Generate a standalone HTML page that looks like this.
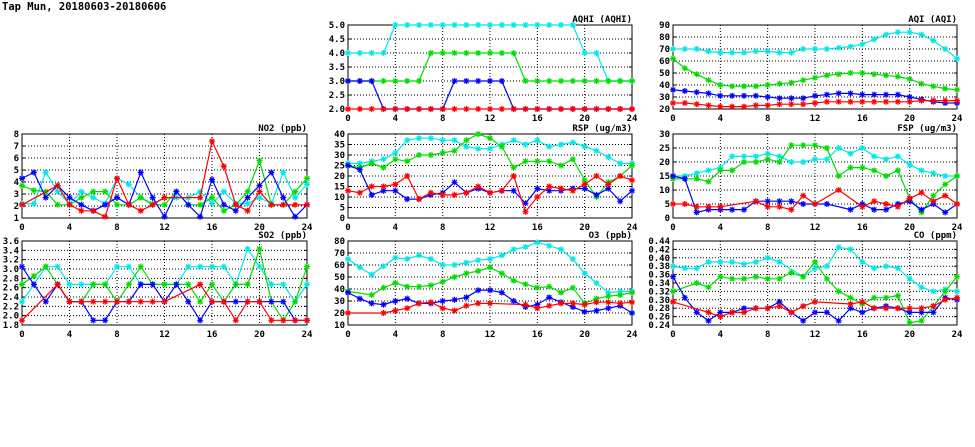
<!DOCTYPE html>
<html><head><meta charset="utf-8"><style>
html,body{margin:0;padding:0;background:#fff;width:975px;height:447px;overflow:hidden}
svg text{font-family:"DejaVu Sans Mono","Liberation Mono",monospace;font-size:9px;font-weight:bold;fill:#000}
</style></head><body>
<svg id="s" width="975" height="447" xmlns="http://www.w3.org/2000/svg">
<text x="2" y="10" style="font-size:10.5px">Tap Mun, 20180603-20180606</text>
</svg>
<script>
var N=null;
var P=[
{t:"AQHI (AQHI)",x:348,y:25,w:284,h:84,mn:2,mx:5,st:0.5,fmt:1,d:[
[4,4,4,4,5,5,5,5,5,5,5,5,5,5,5,5,5,5,5,5,4,4,3,3,3],
[3,3,3,3,3,3,3,4,4,4,4,4,4,4,4,3,3,3,3,3,3,3,3,3,3],
[3,3,3,2,2,2,2,2,2,3,3,3,3,3,2,2,2,2,2,2,2,2,2,2,2],
[2,2,2,2,2,2,2,2,2,2,2,2,2,2,2,2,2,2,2,2,2,2,2,2,2]]},
{t:"AQI (AQI)",x:673,y:25,w:284,h:84,mn:20,mx:90,st:10,fmt:0,d:[
[70,70,70,68,67,67,67,68,68,67,67,70,70,70,71,72,74,78,82,84,84,82,77,70,62],
[62,54,49,44,40,39,39,39,40,41,42,44,46,48,49,50,50,49,48,47,45,41,39,37,36],
[36,35,34,33,31,31,31,31,30,29,29,29,31,32,33,33,32,32,32,32,30,28,26,25,25],
[25,25,24,23,22,22,22,23,23,24,24,24,25,26,26,26,26,26,26,26,26,27,27,27,27]]},
{t:"NO2 (ppb)",x:22,y:134,w:285,h:84,mn:1,mx:8,st:1,fmt:0,d:[
[2.2,2.2,4.8,3.2,2.2,3.2,2.7,2.2,4.3,3.8,2.7,2.2,2.7,2.7,2.7,3.2,2.2,3.2,2.2,2.2,2.7,2.2,4.8,2.7,3.8],
[3.7,3.3,3.2,2.1,2.1,2.7,3.2,3.2,2.1,2.1,2.7,2.1,2.1,3.2,2.1,2.1,2.7,1.6,2.1,3.2,5.8,2.1,2.1,3.2,4.3],
[4.3,4.8,2.7,3.7,2.7,2.1,1.6,2.1,2.7,2.1,4.8,2.7,1.1,3.2,2.1,1.1,4.2,2.1,1.6,2.7,3.7,4.8,2.7,1.1,2.1],
[2.1,N,N,3.7,2.1,1.6,1.6,1.1,4.3,2.1,1.6,2.1,2.7,N,N,2.7,7.4,5.3,2.1,1.6,3.2,2.1,2.1,2.1,2.1]]},
{t:"RSP (ug/m3)",x:348,y:134,w:284,h:84,mn:0,mx:40,st:5,fmt:0,d:[
[26,26,27,28,31,37,38,38,37,37,34,33,33,35,37,35,37,34,35,36,34,32,29,26,26],
[25,24,26,24,28,27,30,30,31,32,37,40,38,34,24,27,27,27,25,28,18,10,17,20,25],
[25,23,11,13,13,9,9,11,12,17,12,14,12,13,13,7,14,13,13,14,14,11,14,8,13],
[13,12,15,15,16,20,9,12,11,11,12,15,12,13,20,3,10,15,14,13,16,20,16,20,18]]},
{t:"FSP (ug/m3)",x:673,y:134,w:284,h:84,mn:0,mx:30,st:5,fmt:0,d:[
[15,15,16,17,18,22,22,22,23,22,20,20,21,21,25,23,25,22,21,22,19,17,16,15,15],
[14,14,14,13,17,17,20,20,21,20,26,26,26,25,15,18,18,17,15,17,7,2,8,12,15],
[15,14,2,3,3,3,3,6,6,6,6,5,5,5,N,3,5,3,3,5,6,3,5,2,5],
[5,5,4,4,4,N,N,6,4,4,3,8,5,N,10,N,4,6,5,4,7,9,6,8,5]]},
{t:"SO2 (ppb)",x:22,y:241,w:285,h:84,mn:1.8,mx:3.6,st:0.2,fmt:1,d:[
[2.3,2.67,3.05,3.05,2.67,2.67,2.67,2.67,3.05,3.05,2.67,2.67,2.67,2.67,3.05,3.05,3.05,3.05,2.67,3.43,3.05,2.67,2.67,2.3,2.67],
[2.67,2.85,3.05,2.67,2.3,2.3,2.67,2.67,2.3,2.67,3.05,2.67,2.67,2.67,2.67,2.3,2.67,2.3,2.67,2.67,3.43,2.3,1.9,2.3,3.05],
[3.05,2.67,2.3,2.67,2.3,2.3,1.9,1.9,2.3,2.3,2.67,2.67,2.3,2.67,2.3,1.9,2.3,2.3,2.3,2.3,2.3,2.3,2.3,1.9,1.9],
[1.9,N,N,2.67,2.3,2.3,2.3,2.3,2.3,2.3,2.3,2.3,2.3,N,N,2.67,2.3,2.3,1.9,2.3,2.3,1.9,1.9,1.9,1.9]]},
{t:"O3 (ppb)",x:348,y:241,w:284,h:84,mn:10,mx:80,st:10,fmt:0,d:[
[65,58,52,59,66,65,68,65,60,60,62,64,65,68,73,75,79,76,73,65,53,45,37,38,38],
[38,N,35,41,45,42,42,43,46,50,53,55,58,53,47,44,41,42,37,41,28,32,34,35,37],
[37,32,28,27,30,32,28,28,30,31,33,39,39,37,30,25,27,33,29,25,21,22,24,26,20],
[20,N,N,20,22,24,28,29,24,22,26,28,28,N,N,27,24,26,28,28,27,29,29,28,29]]},
{t:"CO (ppm)",x:673,y:241,w:284,h:84,mn:0.24,mx:0.44,st:0.02,fmt:2,d:[
[.38,.375,.375,.39,.39,.39,.385,.39,.40,.39,N,.355,.375,.38,.425,.42,.39,.375,.38,.375,.35,.33,.32,.325,.32],
[.32,N,.34,.33,.355,.35,.35,.355,.35,.35,.365,.355,.39,.35,.32,.305,.29,.305,.305,.31,.245,.25,.285,.32,.355],
[.355,.305,.27,.25,.27,.27,.28,.28,.28,.295,.27,.25,.27,.27,.25,.28,.27,.28,.285,.28,.27,.27,.27,.305,.30],
[.295,N,N,.27,.26,.27,.27,.28,.28,.285,.27,.285,.295,N,N,.29,.295,.28,.28,.28,.28,.28,.285,.30,.305]]}
];
var C=["#00e8e8","#00dd00","#0000ff","#ff0000"];
var h='';
P.forEach(function(p){
 var X=function(i){return p.x+i*p.w/24},Y=function(v){return p.y+p.h-(v-p.mn)/(p.mx-p.mn)*p.h};
 var n=Math.round((p.mx-p.mn)/p.st);
 for(var k=0;k<=n;k++){var v=p.mn+k*p.st,y=Y(v);
  if(k>0&&k<n)h+='<line x1="'+p.x+'" x2="'+(p.x+p.w)+'" y1="'+y+'" y2="'+y+'" stroke="#000" stroke-width="1" stroke-dasharray="1,2"/>';
  h+='<line x1="'+p.x+'" x2="'+(p.x+3)+'" y1="'+y+'" y2="'+y+'" stroke="#000"/><line x1="'+(p.x+p.w-3)+'" x2="'+(p.x+p.w)+'" y1="'+y+'" y2="'+y+'" stroke="#000"/>';
  h+='<text x="'+(p.x-3)+'" y="'+(y+3)+'" text-anchor="end">'+v.toFixed(p.fmt)+'</text>';}
 for(var i=0;i<=24;i+=4){var x=X(i);
  if(i>0&&i<24)h+='<line x1="'+x+'" x2="'+x+'" y1="'+p.y+'" y2="'+(p.y+p.h)+'" stroke="#000" stroke-dasharray="1,2"/>';
  h+='<text x="'+x+'" y="'+(p.y+p.h+12)+'" text-anchor="middle">'+i+'</text>';}
 h+='<rect x="'+p.x+'" y="'+p.y+'" width="'+p.w+'" height="'+p.h+'" fill="none" stroke="#000"/>';
 h+='<text x="'+(p.x+p.w)+'" y="'+(p.y-3)+'" text-anchor="end">'+p.t+'</text>';
 p.d.forEach(function(s,j){var pts=[];
  s.forEach(function(v,i){if(v!==null)pts.push([X(i),Y(v)])});
  h+='<polyline fill="none" stroke="'+C[j]+'" stroke-width="1.2" points="'+pts.map(function(q){return q[0].toFixed(1)+','+q[1].toFixed(1)}).join(' ')+'"/>';
  pts.forEach(function(q){var a=q[0],b=q[1],r=3;
   h+='<path d="M'+(a-r)+' '+b+'H'+(a+r)+'M'+a+' '+(b-r)+'V'+(b+r)+'M'+(a-2.2)+' '+(b-2.2)+'L'+(a+2.2)+' '+(b+2.2)+'M'+(a-2.2)+' '+(b+2.2)+'L'+(a+2.2)+' '+(b-2.2)+'" stroke="'+C[j]+'" stroke-width="1.2"/>';});
 });
});
document.getElementById('s').insertAdjacentHTML('beforeend',h);
</script>
</body></html>
